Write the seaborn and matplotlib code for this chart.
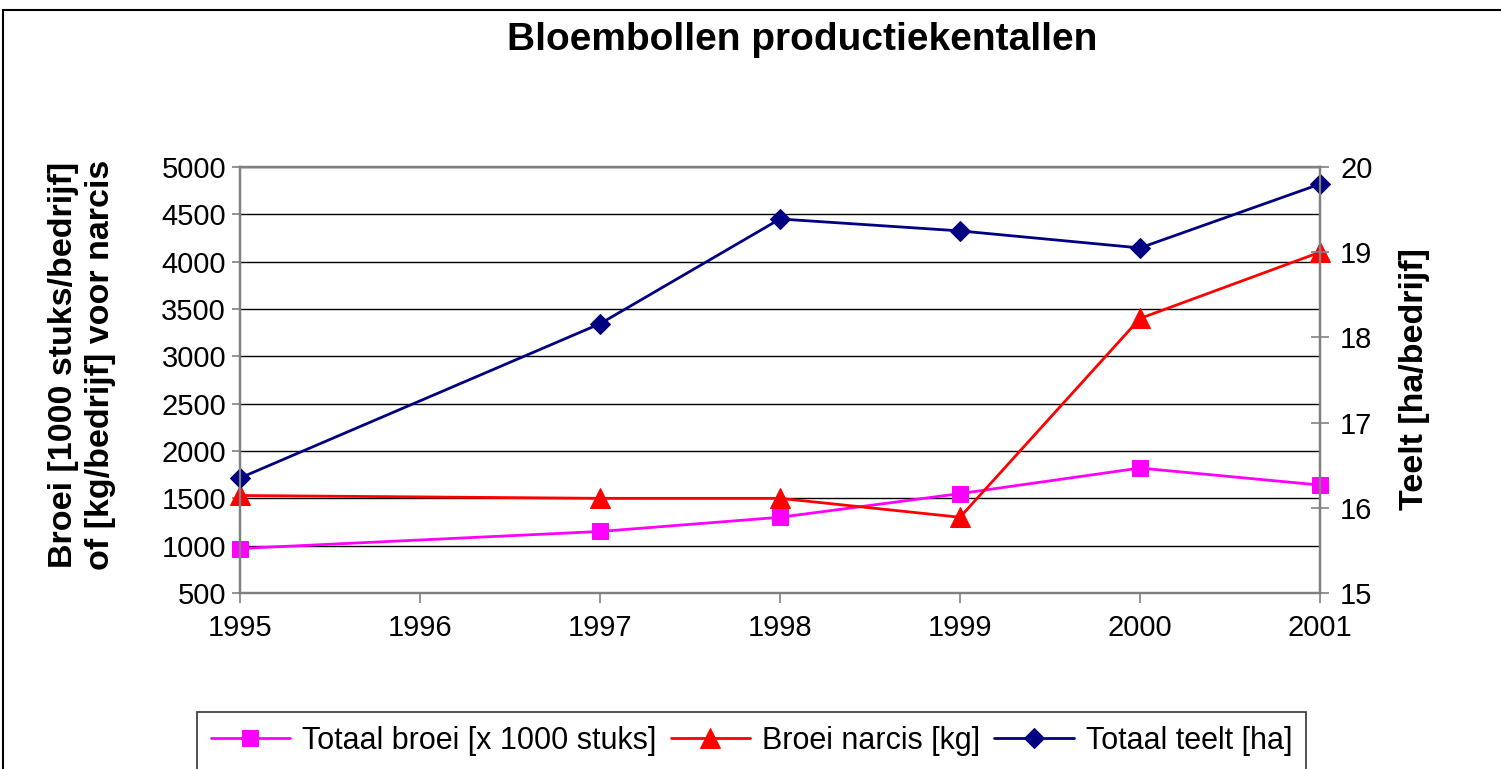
import numpy as np
import pandas as pd
import matplotlib
matplotlib.use('Agg')
import matplotlib.pyplot as plt
from matplotlib.patches import Rectangle
import seaborn as sns

# waarden
jaren = [1995, 1997, 1998, 1999, 2000, 2001]
totaal_broei = [970, 1150, 1300, 1550, 1820, 1640]      # x 1000 stuks
broei_narcis = [1530, 1500, 1500, 1300, 3400, 4100]     # kg
totaal_teelt = [16.35, 18.16, 19.39, 19.25, 19.05, 19.80]  # ha

df = pd.DataFrame({'jaar': jaren, 'broei': totaal_broei,
                   'narcis': broei_narcis, 'teelt': totaal_teelt})

sns.set_style('white')
plt.rcParams['font.family'] = ['Liberation Sans', 'DejaVu Sans']
plt.rcParams['text.color'] = 'black'
plt.rcParams['xtick.color'] = 'black'
plt.rcParams['ytick.color'] = 'black'

W, H = 1501, 769
fig = plt.figure(figsize=(W / 100, H / 100), dpi=100)
ax = fig.add_axes([240 / W, 1 - 593 / H, 1080 / W, 426 / H])
ax2 = ax.twinx()

sns.lineplot(data=df, x='jaar', y='broei', ax=ax, color='#FF00FF', lw=2,
             marker='s', markersize=11.5, markeredgecolor='#FF00FF',
             label='Totaal broei [x 1000 stuks]', legend=False, clip_on=False)
sns.lineplot(data=df, x='jaar', y='narcis', ax=ax, color='#FF0000', lw=2,
             marker='^', markersize=14, markeredgecolor='#FF0000',
             label='Broei narcis [kg]', legend=False, clip_on=False)
sns.lineplot(data=df, x='jaar', y='teelt', ax=ax2, color='#000080', lw=2,
             marker='D', markersize=10, markeredgecolor='#000080',
             label='Totaal teelt [ha]', legend=False, clip_on=False)

ax.set_xlim(1995, 2001)
ax.set_ylim(500, 5000)
ax2.set_ylim(15, 20)
ax.set_xticks(range(1995, 2002))
ax.set_yticks(range(500, 5001, 500))
ax2.set_yticks(range(15, 21))

ax.yaxis.grid(True, color='black', lw=1)
ax.set_axisbelow(True)
ax.set_xlabel('')
ax.set_ylabel('')
ax2.set_ylabel('')

for a in (ax, ax2):
    for s in a.spines.values():
        s.set_color('#808080')
        s.set_linewidth(1.6)

ax.tick_params(axis='x', direction='out', length=7, width=1.2, color='#808080',
               labelcolor='black', labelsize=21, pad=8, bottom=True)
ax.tick_params(axis='y', direction='out', length=6, width=1.2, color='#808080',
               labelcolor='black', labelsize=21, pad=4, left=True)
ax2.tick_params(axis='y', direction='inout', length=13, width=1.2, color='#808080',
                labelcolor='black', labelsize=21, pad=8, right=True)

fig.text(802 / W, 1 - 40 / H, 'Bloembollen productiekentallen', ha='center',
         va='center', fontsize=28, fontweight='bold', color='black')
fig.text(82 / W, 1 - 365 / H, 'Broei [1000 stuks/bedrijf]\nof [kg/bedrijf] voor narcis',
         rotation=90, ha='center', va='center', fontsize=24.5, fontweight='bold',
         linespacing=1.25, multialignment='center', color='black')
fig.text(1415 / W, 1 - 379 / H, 'Teelt [ha/bedrijf]', rotation=90, ha='center',
         va='center', fontsize=24.5, fontweight='bold', color='black')

h1, l1 = ax.get_legend_handles_labels()
h2, l2 = ax2.get_legend_handles_labels()
leg = fig.legend(h1 + h2, l1 + l2, loc='upper left',
                 bbox_to_anchor=(197 / W, 1 - 712 / H), ncol=3, fontsize=22,
                 frameon=True, fancybox=False, edgecolor='black',
                 handlelength=2.6, handletextpad=0.4, columnspacing=0.45,
                 borderpad=0.45, borderaxespad=0)
leg.get_frame().set_linewidth(1.2)
for t in leg.get_texts():
    t.set_color('black')

# rand van het grafiekgebied
fig.patches.append(Rectangle((3 / W, -0.2), 1.2, 1.2 - 10 / H, transform=fig.transFigure,
                             fill=False, edgecolor='black', lw=1.5))

fig.savefig('out.png', dpi=100)
